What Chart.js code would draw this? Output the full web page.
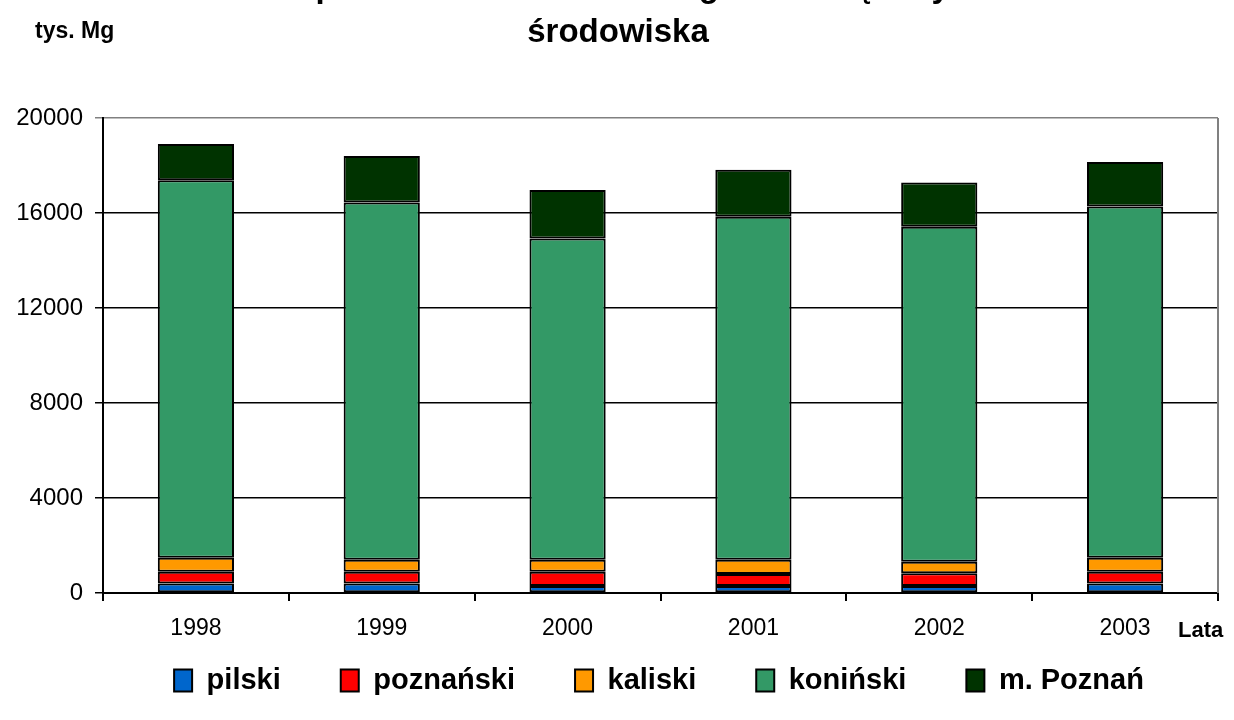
<!DOCTYPE html>
<html>
<head>
  <title>Odpady - zaklady szczegolnie uciazliwe</title>
  <script src="https://cdn.jsdelivr.net/npm/chart.js"></script>
  <style>
    body { margin: 0; background: #fff; font-family: "Liberation Sans", Arial, sans-serif; }
    #wrap { position: relative; width: 1234px; height: 720px; overflow: hidden; }
    #chart { position: absolute; left: 0; top: -40px; }
    .lbl { position: absolute; font-weight: bold; color: #000; white-space: nowrap; }
  </style>
</head>
<body>
  <div id="wrap">
    <canvas id="chart" width="1234" height="760" style="width:1234px;height:760px"></canvas>
    <div class="lbl" style="left:35px; top:17px; font-size:23px">tys. Mg</div>
    <div class="lbl" style="left:1178px; top:617px; font-size:22px">Lata</div>
  </div>

  <script>
    const years = ['1998', '1999', '2000', '2001', '2002', '2003'];
    const pilski = [400, 400, 300, 300, 300, 400];
    const poznanski = [500, 500, 600, 500, 530, 500];
    const kaliski = [580, 500, 500, 600, 490, 580];
    const koninski = [15900, 15050, 13530, 14450, 14100, 14800];
    const mPoznan = [1530, 1950, 2040, 1970, 1870, 1870];
    const titleLines = ['Ilość odpadów z zakładów szczególnie uciążliwych dla', 'środowiska'];

    const FONT = '"Liberation Sans", Arial, sans-serif';

    function ds(label, data, color) {
      return {
        label: label,
        data: data,
        backgroundColor: color,
        borderColor: '#000',
        borderWidth: 2,
        borderSkipped: false,
        categoryPercentage: 1,
        barPercentage: 0.41
      };
    }

    // gray right edge of the plot area
    const plotBorder = {
      id: 'plotBorder',
      beforeDatasetsDraw(chart) {
        const { ctx, chartArea: a } = chart;
        ctx.save();
        ctx.strokeStyle = '#808080';
        ctx.lineWidth = 2;
        ctx.beginPath();
        ctx.moveTo(a.right, a.top);
        ctx.lineTo(a.right, a.bottom);
        ctx.stroke();
        ctx.restore();
      }
    };

    // nudge title and legend to where the original has them
    const nudge = {
      id: 'nudge',
      afterLayout(chart) {
        const t = chart.titleBlock;
        t.left += 9;
        t.right += 9;
        const l = chart.legend;
        l.left += 50;
        l.right += 50;
        l.top = 646;
        l.bottom = chart.height;
        l.height = l.bottom - l.top;
      }
    };

    new Chart(document.getElementById('chart'), {
      type: 'bar',
      data: {
        labels: years,
        datasets: [
          ds('pilski', pilski, '#0066CC'),
          ds('poznański', poznanski, '#FF0000'),
          ds('kaliski', kaliski, '#FF9900'),
          ds('koniński', koninski, '#339966'),
          ds('m. Poznań', mPoznan, '#003300')
        ]
      },
      options: {
        responsive: false,
        animation: false,
        layout: { padding: { left: 0, right: 16, top: 0, bottom: 0 } },
        plugins: {
          title: {
            display: true,
            text: titleLines,
            color: '#000',
            font: { family: FONT, size: 33, weight: 'bold', lineHeight: 1.35 },
            padding: { top: 6, bottom: 63 }
          },
          legend: {
            position: 'bottom',
            maxHeight: 75,
            labels: {
              color: '#000',
              font: { family: FONT, size: 29, weight: 'bold' },
              boxWidth: 18,
              boxHeight: 22,
              padding: 60
            }
          },
          tooltip: { enabled: false }
        },
        scales: {
          x: {
            stacked: true,
            afterFit(scale) { scale.height = 52; },
            grid: {
              offset: true,
              drawOnChartArea: false,
              drawTicks: true,
              tickLength: 8,
              color: '#000',
              lineWidth: 2
            },
            border: { display: true, color: '#000', width: 2 },
            ticks: { color: '#000', font: { family: FONT, size: 23 }, padding: 14 }
          },
          y: {
            stacked: true,
            min: 0,
            max: 20000,
            afterFit(scale) { scale.width = 103; },
            grid: {
              color: ctx => ctx.tick && ctx.tick.value === 20000 ? '#808080' : '#000',
              lineWidth: 1.5,
              tickLength: 8
            },
            border: { display: true, color: '#000', width: 2 },
            ticks: {
              stepSize: 4000,
              color: '#000',
              font: { family: FONT, size: 24 },
              padding: 12,
              callback: v => String(v)
            }
          }
        }
      },
      plugins: [plotBorder, nudge]
    });
  </script>
</body>
</html>
